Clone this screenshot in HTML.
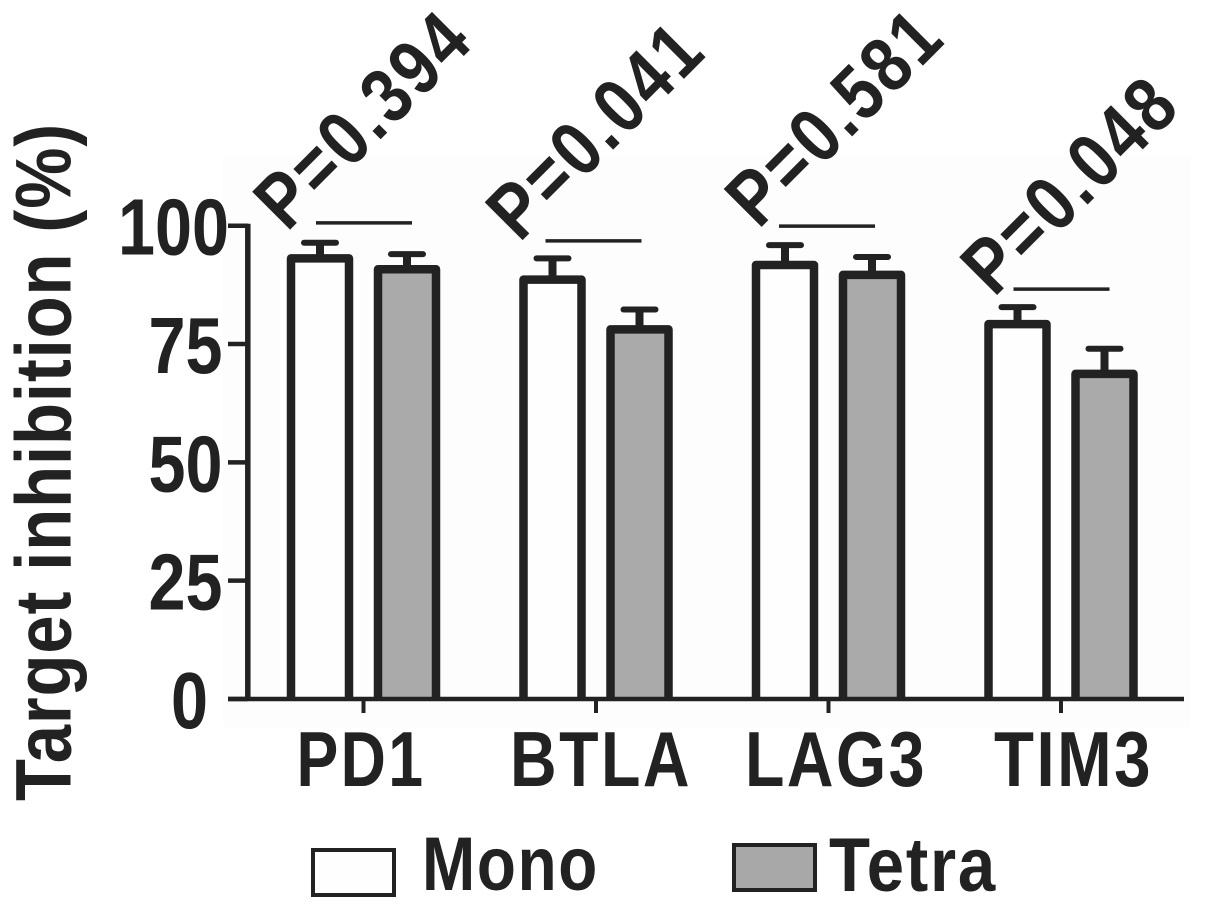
<!DOCTYPE html>
<html>
<head>
<meta charset="utf-8">
<title>Target inhibition chart</title>
<style>
html,body{margin:0;padding:0;background:#fff}
svg{display:block}
text{font-family:"Liberation Sans",sans-serif;font-weight:bold;fill:#222}
</style>
</head>
<body>
<svg id="chart" xmlns="http://www.w3.org/2000/svg" width="1205" height="909" viewBox="0 0 1205 909"></svg>
<script>
const categories = ['PD1', 'BTLA', 'LAG3', 'TIM3'];
const monoValues = [93.1, 88.6, 91.7, 79.2];
const tetraValues = [90.8, 78.1, 89.6, 68.7];
const monoTops = [96.4, 93.1, 95.9, 82.8];
const tetraTops = [94, 82.3, 93.4, 74];
const pLabels = ['P=0.394', 'P=0.041', 'P=0.581', 'P=0.048'];
const sigLevels = [100.6, 96.8, 99.9, 86.6];
const pLabelLevels = [98.5, 96.3, 99.1, 84.7];
const yTicks = [0, 25, 50, 75, 100];

const INK = '#222';
const svg = document.getElementById('chart');
const NS = 'http://www.w3.org/2000/svg';
const yScale = v => 699 - v * 4.733;
const xCenter = i => 363.5 + i * 232.5;
const labelCenter = i => 361 + i * 237.5 + (i === 1 ? 2.5 : 0);
const sigCenter = i => xCenter(i) + (i === 1 ? -2.5 : i === 2 ? -1.5 : 0.5);
const pOriginX = i => xCenter(i) + (i === 3 ? -67 : i === 2 ? -70 : -76.5);
const BAR_OFFSET = 43.5;
const BAR_HALF = 29;

function add(tag, attrs, parent, text) {
  const el = document.createElementNS(NS, tag);
  for (const k in attrs) el.setAttribute(k, attrs[k]);
  if (text !== undefined) el.textContent = text;
  (parent || svg).appendChild(el);
  return el;
}

const plotBg = add('rect', {x: 223, y: 157, width: 967, height: 570, fill: '#fdfdfd'});



function drawBar(i, side, value, top, fill, label) {
  const cx = xCenter(i) + side * BAR_OFFSET;
  const g = add('g', {});
  
  
  add('line', {x1: cx, x2: cx, y1: yScale(value), y2: yScale(top), stroke: INK, 'stroke-width': 8}, g);
  add('line', {x1: cx - 16, x2: cx + 16, y1: yScale(top), y2: yScale(top), stroke: INK, 'stroke-width': 6, 'stroke-linecap': 'round'}, g);
  add('rect', {x: cx - BAR_HALF, y: yScale(value), width: BAR_HALF * 2, height: yScale(0) - yScale(value), fill: fill}, g);
  const d = 'M' + (cx - BAR_HALF) + ' ' + yScale(0) + 'V' + yScale(value) + 'H' + (cx + BAR_HALF) + 'V' + yScale(0);
  add('path', {d: d, fill: 'none', stroke: INK, 'stroke-width': 8.5, 'stroke-linejoin': 'round'}, g);
}

categories.forEach((c, i) => {
  drawBar(i, -1, monoValues[i], monoTops[i], '#fefefe', 'mono');
  drawBar(i, 1, tetraValues[i], tetraTops[i], '#aaaaaa', 'tetra');

  const tick = add('line', {x1: xCenter(i), x2: xCenter(i), y1: 699, y2: 713, stroke: INK, 'stroke-width': 4});
  
  

  const lab = add('text', {x: labelCenter(i), y: 786, 'font-size': 78, 'text-anchor': 'middle', 'letter-spacing': 3,
    textLength: (c === 'PD1' ? 129 : c === 'BTLA' ? 182 : c === 'LAG3' ? 182 : 159), lengthAdjust: 'spacingAndGlyphs'}, svg, c);
  
  

  const sig = add('line', {x1: sigCenter(i) - 48, x2: sigCenter(i) + 48, y1: yScale(sigLevels[i]), y2: yScale(sigLevels[i]), stroke: INK, 'stroke-width': 3.5});
  
  

  const px = pOriginX(i), py = yScale(pLabelLevels[i]);
  const p = add('text', {x: 0, y: 0, 'font-size': 78, 'letter-spacing': 3.5, transform: 'translate(' + px + ' ' + py + ') rotate(-45)',
    textLength: 268, lengthAdjust: 'spacingAndGlyphs'}, svg, pLabels[i]);
  
  
});

const yAxis = add('line', {x1: 247.8, x2: 247.8, y1: yScale(100) - 2, y2: 700, stroke: INK, 'stroke-width': 5.5});



const xAxis = add('line', {x1: 228, x2: 1184, y1: 699, y2: 699, stroke: INK, 'stroke-width': 4.5});



yTicks.forEach(t => {
  const tk = add('line', {x1: 228, x2: 248, y1: yScale(t), y2: yScale(t), stroke: INK, 'stroke-width': 4.5});
  
  
  const s = String(t);
  const right = s.length === 3 ? 229 : s.length === 2 ? 222.5 : 208;
  const lab = add('text', {x: right, y: yScale(t) + 29, 'font-size': 80, 'text-anchor': 'end',
    textLength: s.length * 37, lengthAdjust: 'spacingAndGlyphs'}, svg, s);
  
  
});

const yTitle = add('text', {x: 0, y: 0, 'font-size': 79, 'letter-spacing': 1, transform: 'translate(70.5 801) rotate(-90)',
  textLength: 678, lengthAdjust: 'spacingAndGlyphs'}, svg, 'Target inhibition (%)');



const monoSwatch = add('rect', {x: 313, y: 850, width: 81, height: 45, fill: '#fefefe', stroke: INK, 'stroke-width': 4});


const monoText = add('text', {x: 422, y: 890, 'font-size': 76, 'letter-spacing': 2, textLength: 177, lengthAdjust: 'spacingAndGlyphs'}, svg, 'Mono');


const tetraSwatch = add('rect', {x: 734, y: 845, width: 81, height: 45, fill: '#a8a8a8', stroke: INK, 'stroke-width': 4});


const tetraText = add('text', {x: 829, y: 891, 'font-size': 76, 'letter-spacing': 2, textLength: 168, lengthAdjust: 'spacingAndGlyphs'}, svg, 'Tetra');


</script>
</body>
</html>
